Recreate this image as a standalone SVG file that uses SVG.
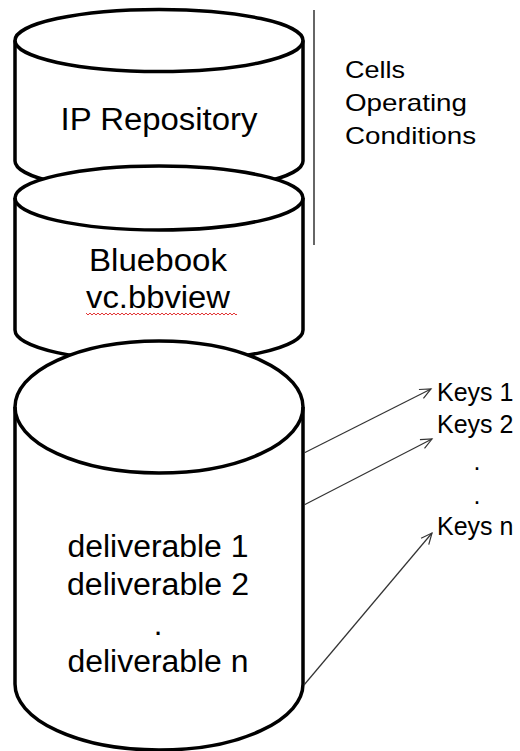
<svg xmlns="http://www.w3.org/2000/svg" width="520" height="751" viewBox="0 0 520 751">
  <style>
    .cyl { fill: #fff; stroke: #000; stroke-width: 3.5; stroke-linejoin: round; }
    .rim { fill: none; stroke: #000; stroke-width: 3.5; }
    .lbl { font-family: "Liberation Sans", Arial, sans-serif; fill: #000; }
    .big { font-size: 31px; text-anchor: middle; }
    .side { font-size: 24px; }
    .keys { font-size: 25px; }
    .link { fill: none; stroke: #333; stroke-width: 1.2; marker-end: url(#open-arrow); }
  </style>
  <defs>
    <marker id="open-arrow" markerUnits="userSpaceOnUse" markerWidth="14" markerHeight="12" refX="12" refY="6" orient="auto">
      <path d="M1,1 L12,6 L1,11" fill="none" stroke="#333" stroke-width="1.2"/>
    </marker>
    <pattern id="squiggle" width="4" height="4" patternUnits="userSpaceOnUse">
      <path d="M0,3 L2,1 L4,3" fill="none" stroke="#e02020" stroke-width="0.9"/>
    </pattern>
  </defs>

  <!-- IP repository store -->
  <g id="ip-repository">
    <path class="cyl" d="M15,40.5 L15,161 A144,31 0 0 0 303,161 L303,40.5 A144,31 0 0 0 15,40.5 Z"/>
    <path class="rim" d="M15,40.5 A144,31 0 0 0 303,40.5"/>
    <text class="lbl big" x="159" y="129.5" textLength="197" lengthAdjust="spacingAndGlyphs">IP Repository</text>
  </g>

  <!-- Bluebook store -->
  <g id="bluebook">
    <path class="cyl" d="M15,198 L15,330 A144,32 0 0 0 303,330 L303,198 A144,32 0 0 0 15,198 Z"/>
    <path class="rim" d="M15,198 A144,32 0 0 0 303,198"/>
    <text class="lbl big" x="158" y="271" textLength="138" lengthAdjust="spacingAndGlyphs">Bluebook</text>
    <text class="lbl big" x="158" y="308" textLength="144" lengthAdjust="spacingAndGlyphs">vc.bbview</text>
    <rect x="86" y="312" width="151" height="4" fill="url(#squiggle)"/>
  </g>

  <!-- Deliverables store -->
  <g id="deliverables">
    <path class="cyl" d="M15,407 L15,684 A144,66 0 0 0 303,684 L303,407 A144,66 0 0 0 15,407 Z"/>
    <path class="rim" d="M15,407 A144,66 0 0 0 303,407"/>
    <text class="lbl big" x="158" y="557" textLength="181" lengthAdjust="spacingAndGlyphs">deliverable 1</text>
    <text class="lbl big" x="158" y="595" textLength="182" lengthAdjust="spacingAndGlyphs">deliverable 2</text>
    <text class="lbl big" x="158" y="635">.</text>
    <text class="lbl big" x="158" y="672" textLength="181" lengthAdjust="spacingAndGlyphs">deliverable n</text>
  </g>

  <!-- Scope note for the upper stores -->
  <g id="scope-note">
    <line x1="314" y1="10" x2="314" y2="245" stroke="#333" stroke-width="1.5"/>
    <text class="lbl side" x="345" y="78" textLength="60" lengthAdjust="spacingAndGlyphs">Cells</text>
    <text class="lbl side" x="345" y="111" textLength="122" lengthAdjust="spacingAndGlyphs">Operating</text>
    <text class="lbl side" x="345" y="144" textLength="131" lengthAdjust="spacingAndGlyphs">Conditions</text>
  </g>

  <!-- Keys list -->
  <g id="keys">
    <text class="lbl keys" x="437" y="401">Keys 1</text>
    <text class="lbl keys" x="437" y="433">Keys 2</text>
    <text class="lbl keys" x="477" y="470" text-anchor="middle">.</text>
    <text class="lbl keys" x="477" y="504" text-anchor="middle">.</text>
    <text class="lbl keys" x="437" y="535">Keys n</text>
  </g>

  <!-- Connectors from deliverables to keys -->
  <g id="connectors">
    <line class="link" x1="304" y1="453" x2="431" y2="389"/>
    <line class="link" x1="304" y1="505" x2="432" y2="439"/>
    <line class="link" x1="304" y1="685" x2="432" y2="533"/>
  </g>
</svg>
